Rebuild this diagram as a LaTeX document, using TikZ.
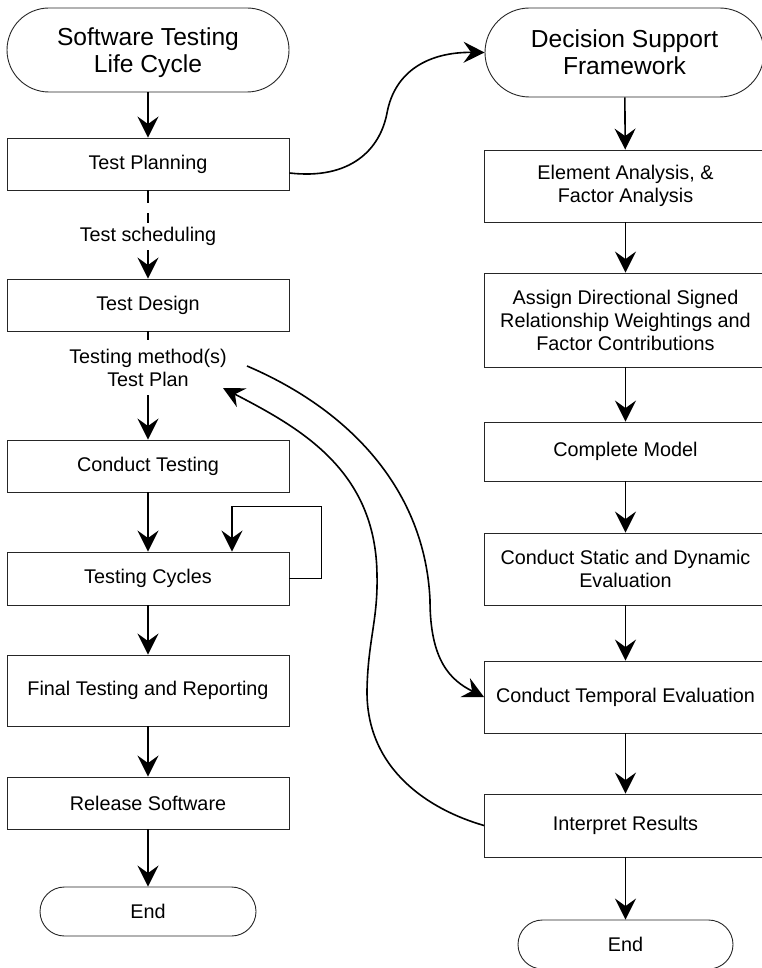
\documentclass[tikz,border=0pt]{standalone}
\usepackage{fontspec}
\setmainfont{Liberation Sans}
\usetikzlibrary{arrows.meta}

\begin{document}
\begin{tikzpicture}[x=1pt,y=-1pt,
  every node/.style={font=\fontsize{19.8}{23}\selectfont, text=black},
  titlefont/.style={font=\fontsize{24.6}{27}\selectfont},
  stepbox/.style={draw=black!85, line width=0.9pt, rectangle, minimum width=282pt, inner sep=0pt, align=center},
  term/.style={draw=black!85, line width=0.9pt, rectangle, inner sep=0pt, align=center},
  txt/.style={inner sep=0pt, align=center},
  arr/.style={line width=1.6pt, -{Stealth[length=21pt,width=21pt,inset=7.5pt]}},
  link/.style={line width=1.6pt},
]
\useasboundingbox (0,0) rectangle (761,968);

% ---- software testing life cycle (left column) ----
\node[term, titlefont, minimum width=282pt, minimum height=84pt, rounded corners=42pt] (stlc) at (148,50) {\rule{0pt}{23pt}Software Testing\\Life Cycle};
\node[stepbox, minimum height=52pt] (tp) at (148,164) {Test Planning};
\node[txt, minimum height=27pt] (sched) at (148,236.5) {Test scheduling};
\node[stepbox, minimum height=52pt] (td) at (148,305) {Test Design};
\node[txt, minimum height=55pt] (tm) at (148,367.5) {Testing method(s)\\Test Plan};
\node[stepbox, minimum height=52pt] (ct) at (148,466) {Conduct Testing};
\node[stepbox, minimum height=53pt] (tc) at (148,578.5) {Testing Cycles};
\node[stepbox, minimum height=71pt] (ftr) at (148,690.5) {Final Testing and Reporting};
\node[stepbox, minimum height=52pt] (rs) at (148,803) {Release Software};
\node[term, minimum width=216pt, minimum height=49pt, rounded corners=24.5pt] (endl) at (148,911.5) {End};

% ---- decision support framework (right column) ----
\node[term, titlefont, minimum width=279pt, minimum height=89pt, rounded corners=44.5pt] (dsf) at (624.5,52.5) {Decision Support\\Framework};
\node[stepbox, minimum height=72pt] (eaf) at (625.5,186) {Element Analysis, \&\\Factor Analysis};
\node[stepbox, minimum height=94pt] (adw) at (625.5,320) {Assign Directional Signed\\Relationship Weightings and\\Factor Contributions};
\node[stepbox, minimum height=59pt] (cm) at (625.5,451.5) {Complete Model};
\node[stepbox, minimum height=72pt] (csd) at (625.5,569) {Conduct Static and Dynamic\\Evaluation};
\node[stepbox, minimum height=72pt] (tev) at (625.5,697) {Conduct Temporal Evaluation};
\node[stepbox, minimum height=63pt] (ir) at (625.5,825.5) {Interpret Results};
\node[term, minimum width=215pt, minimum height=49pt, rounded corners=24.5pt] (endr) at (625.5,944.5) {End};

% free ends of the two long links beside the test plan label
\coordinate (planout) at (247,366);
\coordinate (planin) at (223,388);

% ---- left column flow ----
\draw[arr] (stlc) -- (tp);
\draw[link, dash pattern=on 13pt off 10pt] (tp) -- (sched);
\draw[arr] (sched) -- (td);
\draw[link] (td) -- (tm);
\draw[arr] (tm) -- (ct);
\draw[arr] (ct) -- (tc);
\draw[arr] (tc) -- (ftr);
\draw[arr] (ftr) -- (rs);
\draw[arr] (rs) -- (endl);
% repeated testing cycles
\draw[arr] (tc.east) -- ++(32,0) |- ([xshift=84pt,yshift=45pt]tc.north) -- ([xshift=84pt]tc.north);

% ---- right column flow ----
\draw[arr] (dsf) -- (eaf);
\draw[arr] (eaf) -- (adw);
\draw[arr] (adw) -- (cm);
\draw[arr] (cm) -- (csd);
\draw[arr] (csd) -- (tev);
\draw[arr] (tev) -- (ir);
\draw[arr] (ir) -- (endr);

% ---- links between the two frameworks ----
\draw[arr] ([yshift=-9pt]tp.east) .. controls (350,180) and (380,150) .. (387,113)
  .. controls (395,70) and (430,52) .. (dsf.west);
\draw[arr] (planout) .. controls (350,410) and (425,490) .. (430,600)
  .. controls (430,660) and (450,680) .. (tev.west);
\draw[arr] (ir.west) .. controls (430,810) and (366,770) .. (367,690)
  .. controls (368,640) and (378,620) .. (377,575)
  .. controls (376,470) and (300,428) .. (planin);
\end{tikzpicture}
\end{document}
